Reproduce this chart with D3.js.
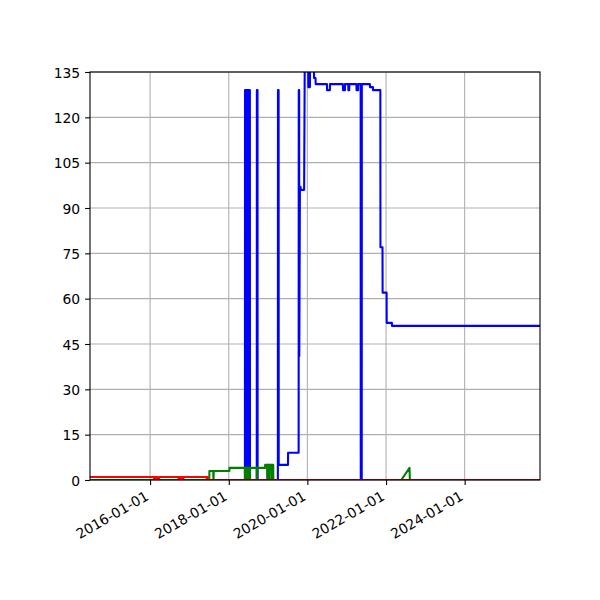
<!DOCTYPE html>
<html>
<head>
<meta charset="utf-8">
<script src="https://cdn.jsdelivr.net/npm/d3@7"></script>
<style>
  body { margin: 0; background: #fff; }
  text { font-family: "DejaVu Sans", sans-serif; font-size: 13.9px; fill: #000; }
  .grid line { stroke: #b0b0b0; stroke-width: 1.1; }
  .series { fill: none; stroke-width: 2.08; stroke-linejoin: round; stroke-linecap: butt; }
</style>
</head>
<body>
<svg id="chart" width="600" height="600"></svg>
<script>
// x range of the data
const xStart = "2014-06-22";
const xEnd = "2025-12-01";

// tick labels
const xTicks = ["2016-01-01", "2018-01-01", "2020-01-01", "2022-01-01", "2024-01-01"];
const yTicks = [0, 15, 30, 45, 60, 75, 90, 105, 120, 135];

// blue series [date, value]
const blueSeries = [
  ["2014-06-22", 0],
  ["2018-05-31", 0], ["2018-06-01", 129], ["2018-06-08", 129], ["2018-06-09", 0],
  ["2018-06-13", 0], ["2018-06-14", 129], ["2018-06-21", 129], ["2018-06-22", 0],
  ["2018-06-26", 0], ["2018-06-27", 129], ["2018-07-04", 129], ["2018-07-05", 0],
  ["2018-07-09", 0], ["2018-07-10", 129], ["2018-07-16", 129], ["2018-07-17", 0],
  ["2018-09-18", 0], ["2018-09-19", 129], ["2018-09-25", 129], ["2018-09-26", 0],
  ["2019-04-02", 0], ["2019-04-03", 129], ["2019-04-09", 129], ["2019-04-10", 5],
  ["2019-07-05", 5], ["2019-07-06", 9],
  ["2019-10-12", 9], ["2019-10-13", 129], ["2019-10-17", 129], ["2019-10-18", 41],
  ["2019-10-24", 97], ["2019-10-30", 97], ["2019-10-31", 96], ["2019-12-02", 96],
  ["2019-12-08", 140], ["2020-01-09", 140], ["2020-01-10", 130], ["2020-01-25", 130],
  ["2020-01-26", 140], ["2020-03-02", 140], ["2020-03-03", 133], ["2020-03-17", 133],
  ["2020-03-18", 131],
  ["2020-07-01", 131], ["2020-07-02", 129], ["2020-07-28", 129], ["2020-07-29", 131],
  ["2020-11-26", 131], ["2020-11-27", 129], ["2020-12-15", 129], ["2020-12-16", 131],
  ["2021-01-15", 131], ["2021-01-16", 129], ["2021-01-24", 129], ["2021-01-25", 131],
  ["2021-04-01", 131], ["2021-04-02", 129], ["2021-04-16", 129], ["2021-04-17", 131],
  ["2021-05-10", 131], ["2021-05-11", 0], ["2021-05-20", 0], ["2021-05-21", 131],
  ["2021-08-04", 131], ["2021-08-05", 130], ["2021-09-01", 130], ["2021-09-02", 129],
  ["2021-11-09", 129], ["2021-11-10", 77], ["2021-11-29", 77], ["2021-11-30", 62],
  ["2022-01-06", 62], ["2022-01-07", 52], ["2022-02-24", 52], ["2022-02-25", 51],
  ["2025-12-01", 51]
];

// green series [date, value]
const greenSeries = [
  ["2014-06-22", 0], ["2017-07-04", 0], ["2017-07-05", 3], ["2017-08-10", 3],
  ["2017-08-11", 0], ["2017-08-13", 0], ["2017-08-14", 3], ["2018-01-07", 3],
  ["2018-01-08", 4],
  ["2018-05-31", 4], ["2018-06-01", 0], ["2018-06-08", 0], ["2018-06-09", 4],
  ["2018-06-13", 4], ["2018-06-14", 0], ["2018-06-21", 0], ["2018-06-22", 4],
  ["2018-06-26", 4], ["2018-06-27", 0], ["2018-07-04", 0], ["2018-07-05", 4],
  ["2018-07-09", 4], ["2018-07-10", 0], ["2018-07-16", 0], ["2018-07-17", 4],
  ["2018-09-18", 4], ["2018-09-19", 0], ["2018-09-21", 0], ["2018-09-22", 4],
  ["2018-12-04", 4], ["2018-12-05", 5],
  ["2018-12-23", 5], ["2018-12-24", 0], ["2018-12-26", 0], ["2018-12-27", 5],
  ["2019-01-11", 5], ["2019-01-12", 0], ["2019-01-14", 0], ["2019-01-15", 5],
  ["2019-02-03", 5], ["2019-02-04", 0], ["2019-02-06", 0], ["2019-02-07", 5],
  ["2019-02-18", 5], ["2019-02-19", 0],
  ["2022-05-22", 0], ["2022-08-07", 4], ["2022-08-10", 0], ["2025-12-01", 0]
];

// red series [date, value]
const redSeries = [
  ["2014-06-22", 1],
  ["2016-02-06", 1], ["2016-02-07", 0], ["2016-02-13", 0], ["2016-02-14", 1],
  ["2016-02-22", 1], ["2016-02-23", 0], ["2016-03-02", 0], ["2016-03-03", 1],
  ["2016-03-12", 1], ["2016-03-13", 0], ["2016-03-24", 0], ["2016-03-25", 1],
  ["2016-09-20", 1], ["2016-09-21", 0], ["2016-09-28", 0], ["2016-09-29", 1],
  ["2016-10-08", 1], ["2016-10-09", 0], ["2016-10-18", 0], ["2016-10-19", 1],
  ["2016-10-27", 1], ["2016-10-28", 0], ["2016-11-04", 0], ["2016-11-05", 1],
  ["2017-06-10", 1], ["2017-06-11", 0], ["2017-06-14", 0], ["2017-06-15", 1],
  ["2017-06-19", 1], ["2017-06-20", 0], ["2025-12-01", 0]
];

const parse = d3.utcParse("%Y-%m-%d");
const margin = { left: 90, top: 72, right: 60, bottom: 120 };
const width = 600 - margin.left - margin.right;
const height = 600 - margin.top - margin.bottom;

let x = d3.scaleUtc().domain([parse(xStart), parse(xEnd)]).range([0, width]);
let y = d3.scaleLinear().domain([0, 135]).range([height, 0]);

let svg = d3.select("#chart");
let plot = svg.append("g")
  .attr("transform", "translate(" + margin.left + "," + margin.top + ")");

// clip for the lines
svg.append("defs").append("clipPath").attr("id", "clip")
  .append("rect").attr("width", width).attr("height", height);

// grid
let grid = plot.append("g").attr("class", "grid");
grid.selectAll("line.gx").data(xTicks).join("line")
  .attr("class", "gx")
  .attr("x1", d => x(parse(d))).attr("x2", d => x(parse(d)))
  .attr("y1", 0).attr("y2", height);
grid.selectAll("line.gy").data(yTicks).join("line")
  .attr("class", "gy")
  .attr("x1", 0).attr("x2", width)
  .attr("y1", d => y(d)).attr("y2", d => y(d));

// lines: blue, green, red (red on top)
let line = d3.line()
  .x(d => x(parse(d[0])))
  .y(d => y(d[1]));
let lines = plot.append("g").attr("clip-path", "url(#clip)");
[[blueSeries, "#0000ff"], [greenSeries, "#008000"], [redSeries, "#ff0000"]].forEach(s => {
  lines.append("path")
    .attr("class", "series")
    .attr("d", line(s[0]))
    .attr("stroke", s[1]);
});

// axes
let yAxis = d3.axisLeft(y).tickValues(yTicks).tickSize(4.9).tickPadding(4.9);
let yAxis_graph = plot.append("g").call(yAxis);
yAxis_graph.selectAll("text").attr("dy", "0.36em");

let xAxis = d3.axisBottom(x).tickValues(xTicks.map(parse)).tickSize(4.9)
  .tickFormat(d3.utcFormat("%Y-%m-%d"));
let xAxis_graph = plot.append("g")
  .attr("transform", "translate(0," + height + ")")
  .call(xAxis);
xAxis_graph.selectAll("text")
  .attr("text-anchor", "end")
  .attr("dy", null)
  .attr("y", 0)
  .attr("transform", "translate(-1,19) rotate(-30)");

[yAxis_graph, xAxis_graph].forEach(g => {
  g.select(".domain").remove();
  g.selectAll(".tick line").attr("stroke", "#000").attr("stroke-width", 1.1);
  g.selectAll("text").style("font-size", "13.9px").attr("fill", "#000");
});

// frame
plot.append("rect")
  .attr("width", width).attr("height", height)
  .attr("fill", "none").attr("stroke", "#000").attr("stroke-width", 1.1);
</script>
</body>
</html>
